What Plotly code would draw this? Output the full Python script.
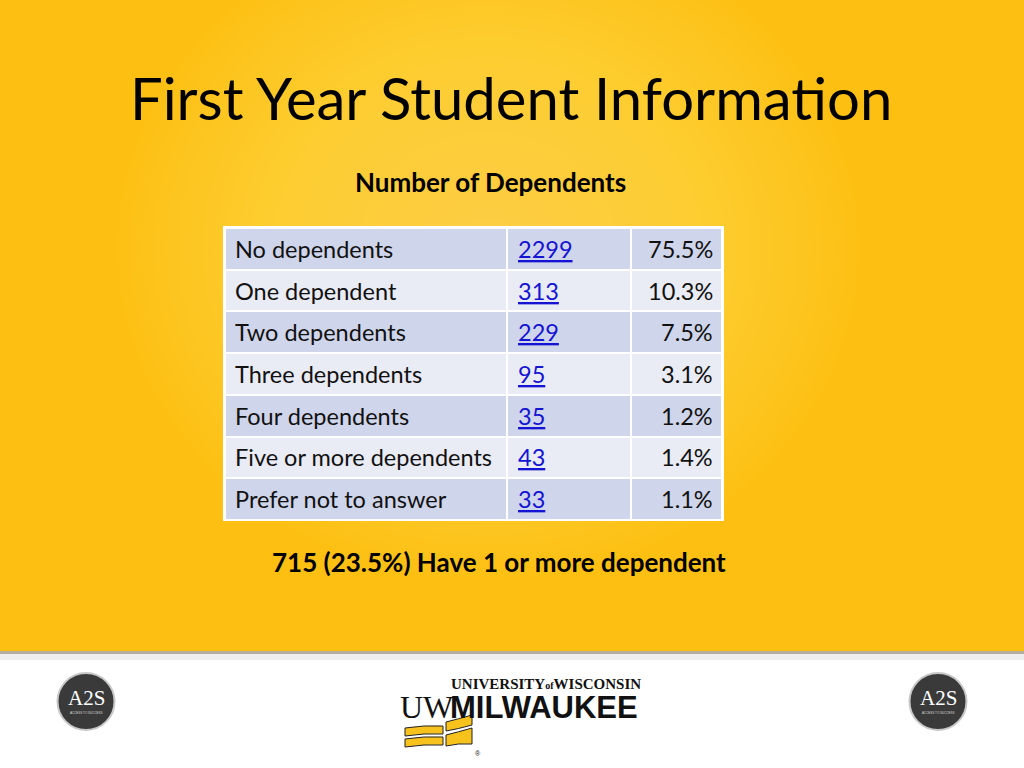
import plotly.graph_objects as go

# ---------------- data ----------------
categories = ["No dependents", "One dependent", "Two dependents", "Three dependents",
              "Four dependents", "Five or more dependents", "Prefer not to answer"]
counts = [2299, 313, 229, 95, 35, 43, 33]
percents = [75.5, 10.3, 7.5, 3.1, 1.2, 1.4, 1.1]

title_text = "First Year Student Information"
subtitle_text = "Number of Dependents"
summary_text = "715 (23.5%) Have 1 or more dependent"

# ---------------- styling ----------------
W, H = 1024, 768
YELLOW = "#FDC012"
ROW_A = "#CFD5EA"
ROW_B = "#E9EBF5"
LINK = "#1414D2"
TXT = "#111111"
BODY_FONT = "Lato"
CELL_SIZE = 23.5

col_edges = [0, 282, 406, 497]          # column widths of the table (px-like units)
tx0, tx1, ty0, ty1 = 225, 722, 228, 520  # table box on the slide

n = len(categories)
parity = [[i % 2] * 3 for i in range(n)]

fig = go.Figure()

# table body as heatmap (white grid from gaps over white backing)
fig.add_trace(go.Heatmap(
    z=parity, x=col_edges, y=list(range(n)),
    colorscale=[[0, ROW_A], [1, ROW_B]], zmin=0, zmax=1, showscale=False,
    xgap=2, ygap=2, hoverinfo="skip",
    xaxis="x2", yaxis="y2",
))

shapes = []
# radial glow approximation
cx, cy = 488, 248
steps = 30
for i in range(steps):
    rx = 370 - i * 12
    ry = 330 - i * 10.7
    shapes.append(dict(type="circle", xref="x", yref="y", x0=cx - rx, x1=cx + rx,
                       y0=cy - ry, y1=cy + ry, line=dict(width=0),
                       fillcolor="rgba(255,224,110,0.04)", layer="below"))
# white backing for table
shapes.append(dict(type="rect", xref="x", yref="y", x0=tx0 - 2, x1=tx1 + 2, y0=ty0 - 2, y1=ty1 + 1,
                   fillcolor="white", line=dict(width=0), layer="below"))
# footer
shapes.append(dict(type="rect", xref="x", yref="y", x0=0, x1=W, y0=651, y1=H,
                   fillcolor="white", line=dict(width=0), layer="below"))
shapes.append(dict(type="rect", xref="x", yref="y", x0=0, x1=W, y0=651, y1=654,
                   fillcolor="rgba(150,140,120,0.7)", line=dict(width=0), layer="below"))
shapes.append(dict(type="rect", xref="x", yref="y", x0=0, x1=W, y0=654, y1=660,
                   fillcolor="rgba(200,200,200,0.3)", line=dict(width=0), layer="below"))

# A2S logos
for lx in (86, 938):
    shapes.append(dict(type="circle", xref="x", yref="y", x0=lx - 28.5, x1=lx + 28.5,
                       y0=701.5 - 28.5, y1=701.5 + 28.5, fillcolor="#3a3a3a",
                       line=dict(color="#c8c8c8", width=2), layer="below"))

# UWM yellow flags
flag_paths = [
    "M 405 728 Q 424 725 443 726 L 443 734 Q 424 733 405 736 Z",
    "M 405 739 Q 424 736 443 737 L 443 745 Q 424 744 405 747 Z",
    "M 446 722 Q 458 719 472 715 L 472 725 Q 458 729 446 731 Z",
    "M 446 735 Q 458 732 472 728 L 472 744 Q 458 743 446 746 Z",
]
for p in flag_paths:
    shapes.append(dict(type="path", xref="x", yref="y", path=p, fillcolor="#F7C21B",
                       line=dict(color="#222222", width=1), layer="above"))

annotations = [
    dict(x=511, y=97, text=title_text, font=dict(family=BODY_FONT, size=58, color="#000000"),
         xref="x", yref="y"),
    dict(x=490, y=182, text=f"<b>{subtitle_text}</b>", font=dict(family=BODY_FONT, size=26, color="#000000"),
         xref="x", yref="y"),
    dict(x=499, y=562, text=f"<b>{summary_text}</b>", font=dict(family=BODY_FONT, size=26, color="#000000"),
         xref="x", yref="y"),
    dict(x=546, y=684, text="<b>UNIVERSITY</b><span style='font-size:10px'><b>of</b></span><b>WISCONSIN</b>",
         font=dict(family="Liberation Serif", size=15, color="#111111"), xref="x", yref="y"),
    dict(x=427, y=707, text="UW", font=dict(family="Liberation Sans Narrow", size=32, color="#111111"),
         xref="x", yref="y"),
    dict(x=544, y=707, text="<b>MILWAUKEE</b>", font=dict(family="Liberation Sans", size=31, color="#111111"),
         xref="x", yref="y"),
    dict(x=478, y=753, text="®", font=dict(family="Liberation Sans", size=7, color="#111111"),
         xref="x", yref="y"),
]
for lx in (86, 938):
    annotations.append(dict(x=lx, y=698, text="A2S", font=dict(family="Liberation Serif", size=21, color="white"),
                            xref="x", yref="y"))
    annotations.append(dict(x=lx, y=713, text="ACCESS TO SUCCESS", font=dict(family="Liberation Sans", size=3, color="#dddddd"),
                            xref="x", yref="y"))

# table texts
for i in range(n):
    annotations.append(dict(x=col_edges[0] + 8, y=i, text=categories[i], xanchor="left",
                            font=dict(family=BODY_FONT, size=CELL_SIZE, color=TXT), xref="x2", yref="y2"))
    annotations.append(dict(x=col_edges[1] + 9, y=i,
                            text=f"<span style='text-decoration:underline'>{counts[i]}</span>", xanchor="left",
                            font=dict(family=BODY_FONT, size=CELL_SIZE, color=LINK), xref="x2", yref="y2"))
    annotations.append(dict(x=col_edges[3] - 7, y=i, text=f"{percents[i]:.1f}%", xanchor="right",
                            font=dict(family=BODY_FONT, size=CELL_SIZE, color=TXT), xref="x2", yref="y2"))

for a in annotations:
    a.setdefault("xanchor", "center")
    a.update(showarrow=False, yanchor="middle")

fig.update_layout(
    width=W, height=H, autosize=False,
    margin=dict(l=0, r=0, t=0, b=0),
    paper_bgcolor=YELLOW, plot_bgcolor="rgba(0,0,0,0)",
    xaxis=dict(range=[0, W], visible=False, fixedrange=True, domain=[0, 1]),
    yaxis=dict(range=[H, 0], visible=False, fixedrange=True, domain=[0, 1]),
    xaxis2=dict(range=[col_edges[0], col_edges[-1]], visible=False, fixedrange=True,
                domain=[tx0 / W, tx1 / W], anchor="y2"),
    yaxis2=dict(range=[n - 0.5, -0.5], visible=False, fixedrange=True,
                domain=[1 - ty1 / H, 1 - ty0 / H], anchor="x2"),
    shapes=shapes, annotations=annotations, showlegend=False,
)

fig.write_html("out.html", config={"displayModeBar": False},
               post_script="document.body.style.margin='0';document.body.style.overflow='hidden';")
